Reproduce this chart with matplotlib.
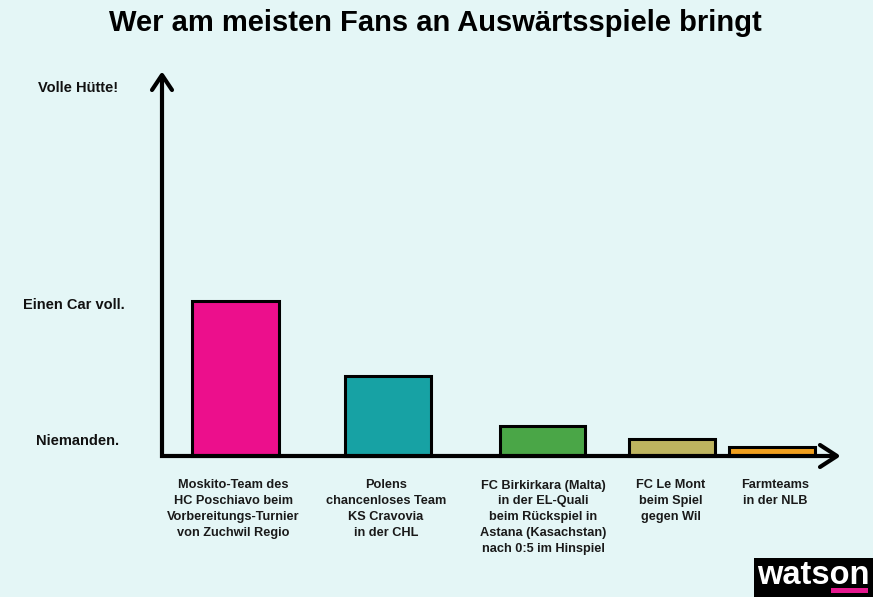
"""Watson chart: who brings the most fans to away games."""

import matplotlib

matplotlib.use("Agg")
import matplotlib.pyplot as plt
from matplotlib.patches import Rectangle

TITLE = "Wer am meisten Fans an Auswärtsspiele bringt"

labels = [
    "Moskito-Team des\nHC Poschiavo beim\nVorbereitungs-Turnier\nvon Zuchwil Regio",
    "Polens\nchancenloses Team\nKS Cravovia\nin der CHL",
    "FC Birkirkara (Malta)\nin der EL-Quali\nbeim Rückspiel in\nAstana (Kasachstan)\nnach 0:5 im Hinspiel",
    "FC Le Mont\nbeim Spiel\ngegen Wil",
    "Farmteams\nin der NLB",
]
values = [155, 80, 30, 17, 9]
colors = ["#ec0f8c", "#17a2a4", "#4aa647", "#bdb45f", "#f0a01e"]
positions = [235.5, 387.5, 542.5, 671.5, 771.5]
widths = [87, 86, 85, 86, 86]
label_x = [233, 386, 543.5, 671, 775]

y_labels = ["Volle Hütte!", "Einen Car voll.", "Niemanden."]
y_label_values = [368, 151, 15]
y_label_x = [78, 74, 78]

BG = "#e4f6f6"

plt.rcParams["font.family"] = ["Liberation Sans", "DejaVu Sans"]

fig = plt.figure(figsize=(8.73, 5.97), dpi=100, facecolor=BG)
# one data unit is one pixel, y = 0 is the baseline
ax = fig.add_axes([0, 0, 1, 1])
ax.set_xlim(0, 873)
ax.set_ylim(-141, 456)
ax.axis("off")

ax.bar(positions, values, width=widths, color=colors, edgecolor="black", linewidth=2.2, zorder=2)

for x, label in zip(label_x, labels):
    ax.text(x, -23.5, label, ha="center", va="top", fontsize=9.15, fontweight="bold",
            color="#1a1a1a", linespacing=1.43)

for x, y, label in zip(y_label_x, y_label_values, y_labels):
    ax.text(x, y, label, ha="center", va="center", fontsize=10.5, fontweight="bold", color="#111111")

# axes with arrow heads
axis_style = dict(color="black", linewidth=3.0, solid_capstyle="round", solid_joinstyle="miter", zorder=3)
ax.plot([162, 162, 836], [380, 0, 0], **axis_style)
ax.plot([152, 162, 172], [366, 381, 366], color="black", linewidth=3.0, solid_capstyle="round", zorder=3)
ax.plot([820, 837, 820], [11, 0, -11], color="black", linewidth=3.0, solid_capstyle="round", zorder=3)

ax.text(435.5, 433, TITLE, ha="center", va="center", fontsize=21, fontweight="bold", color="black")

# logo
ax.add_patch(Rectangle((754, -141), 119, 39, facecolor="black", edgecolor="none", zorder=4))
ax.add_patch(Rectangle((831, -137), 37, 5, facecolor="#e5188f", edgecolor="none", zorder=5))
ax.text(813.5, -120, "watson", ha="center", va="center", fontsize=23.5, fontweight="bold",
        color="white", zorder=6)

fig.savefig("out.png", dpi=100, facecolor=BG)
plt.close(fig)
